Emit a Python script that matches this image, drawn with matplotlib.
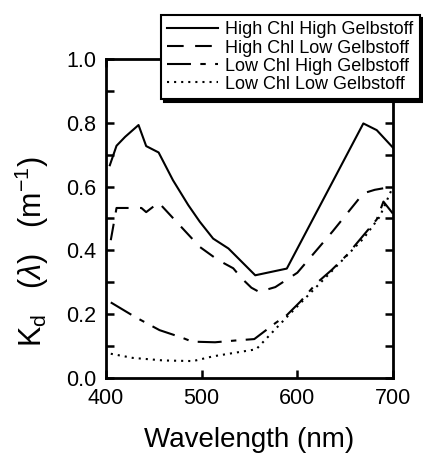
import matplotlib
matplotlib.use("Agg")
import matplotlib.pyplot as plt
from matplotlib.ticker import MultipleLocator

plt.rcParams['font.family'] = ['Liberation Sans', 'DejaVu Sans']
plt.rcParams['mathtext.fontset'] = 'custom'
plt.rcParams['mathtext.rm'] = 'Liberation Sans'
plt.rcParams['mathtext.it'] = 'Liberation Sans:italic'

# --- data ---
wl_hh = [404, 411, 420, 434, 442, 455, 470, 486, 498, 512, 528, 556, 589, 669, 683, 700]
kd_hh = [0.667, 0.728, 0.756, 0.793, 0.727, 0.707, 0.62, 0.542, 0.49, 0.437, 0.406, 0.322, 0.343, 0.798, 0.777, 0.722]

wl_hl = [405, 411, 437, 442, 455, 498, 517, 533, 542, 552, 560, 577, 600, 637, 669, 681, 700]
kd_hl = [0.432, 0.533, 0.533, 0.52, 0.550, 0.411, 0.37, 0.344, 0.312, 0.283, 0.27, 0.285, 0.33, 0.46, 0.579, 0.59, 0.6]

wl_lh = [405, 430, 456, 479, 490, 514, 537, 555, 577, 589, 603, 620, 636, 652, 671, 683, 690, 700]
kd_lh = [0.237, 0.192, 0.150, 0.127, 0.114, 0.112, 0.118, 0.122, 0.172, 0.197, 0.239, 0.297, 0.339, 0.386, 0.454, 0.497, 0.553, 0.515]

wl_ll = [405, 428, 460, 491, 512, 557, 589, 637, 669, 686, 700]
kd_ll = [0.076, 0.063, 0.055, 0.053, 0.068, 0.09, 0.191, 0.338, 0.437, 0.505, 0.6]

labels = ["High Chl High Gelbstoff", "High Chl Low Gelbstoff",
          "Low Chl High Gelbstoff", "Low Chl Low Gelbstoff"]
xticks = [400, 500, 600, 700]
yticks = [0.0, 0.2, 0.4, 0.6, 0.8, 1.0]
yticklabels = ["0.0", "0.2", "0.4", "0.6", "0.8", "1.0"]

fig = plt.figure(figsize=(4.23, 4.54), dpi=100)
ax = fig.add_axes([106/423, 1-378/454, 287/423, 319/454])

lw = 1.5
ax.plot(wl_hh, kd_hh, color='k', lw=lw, ls='-', label=labels[0])
ax.plot(wl_hl, kd_hl, color='k', lw=lw, ls=(0, (8.0, 5.5)), label=labels[1])
ax.plot(wl_lh, kd_lh, color='k', lw=lw, ls=(0, (11.5, 4.5, 2.6, 4.5)), label=labels[2])
ax.plot(wl_ll, kd_ll, color='k', lw=lw, ls=(0, (1.0, 2.4)), label=labels[3])

ax.set_xlim(400, 700)
ax.set_ylim(0, 1.0)
ax.set_xticks(xticks)
ax.set_xticklabels([str(v) for v in xticks])
ax.set_yticks(yticks)
ax.set_yticklabels(yticklabels)
ax.yaxis.set_minor_locator(MultipleLocator(0.1))

for s in ax.spines.values():
    s.set_linewidth(2.0)
ax.tick_params(which='both', direction='in', length=6, width=1.8,
               top=True, right=True, pad=7, labelsize=15.5)

ax.set_xlabel("Wavelength (nm)", fontsize=20, labelpad=13)
ax.set_ylabel(r"K$_\mathrm{d}$   ($\lambda$)   (m$^{\mathrm{-1}}$)", fontsize=22)
ax.yaxis.set_label_coords(-0.19, 0.395)

leg = ax.legend(loc='upper right', bbox_to_anchor=(420/423, 1-15/454),
                bbox_transform=fig.transFigure, borderaxespad=0,
                fontsize=13.0, labelspacing=0.06, handlelength=2.8,
                handletextpad=0.4, borderpad=0.36, fancybox=False,
                frameon=True, shadow={'color': 'black', 'alpha': 1.0})
leg.get_frame().set_edgecolor('black')
leg.get_frame().set_linewidth(1.5)
leg.set_zorder(10)

fig.savefig("out.png", dpi=100)
